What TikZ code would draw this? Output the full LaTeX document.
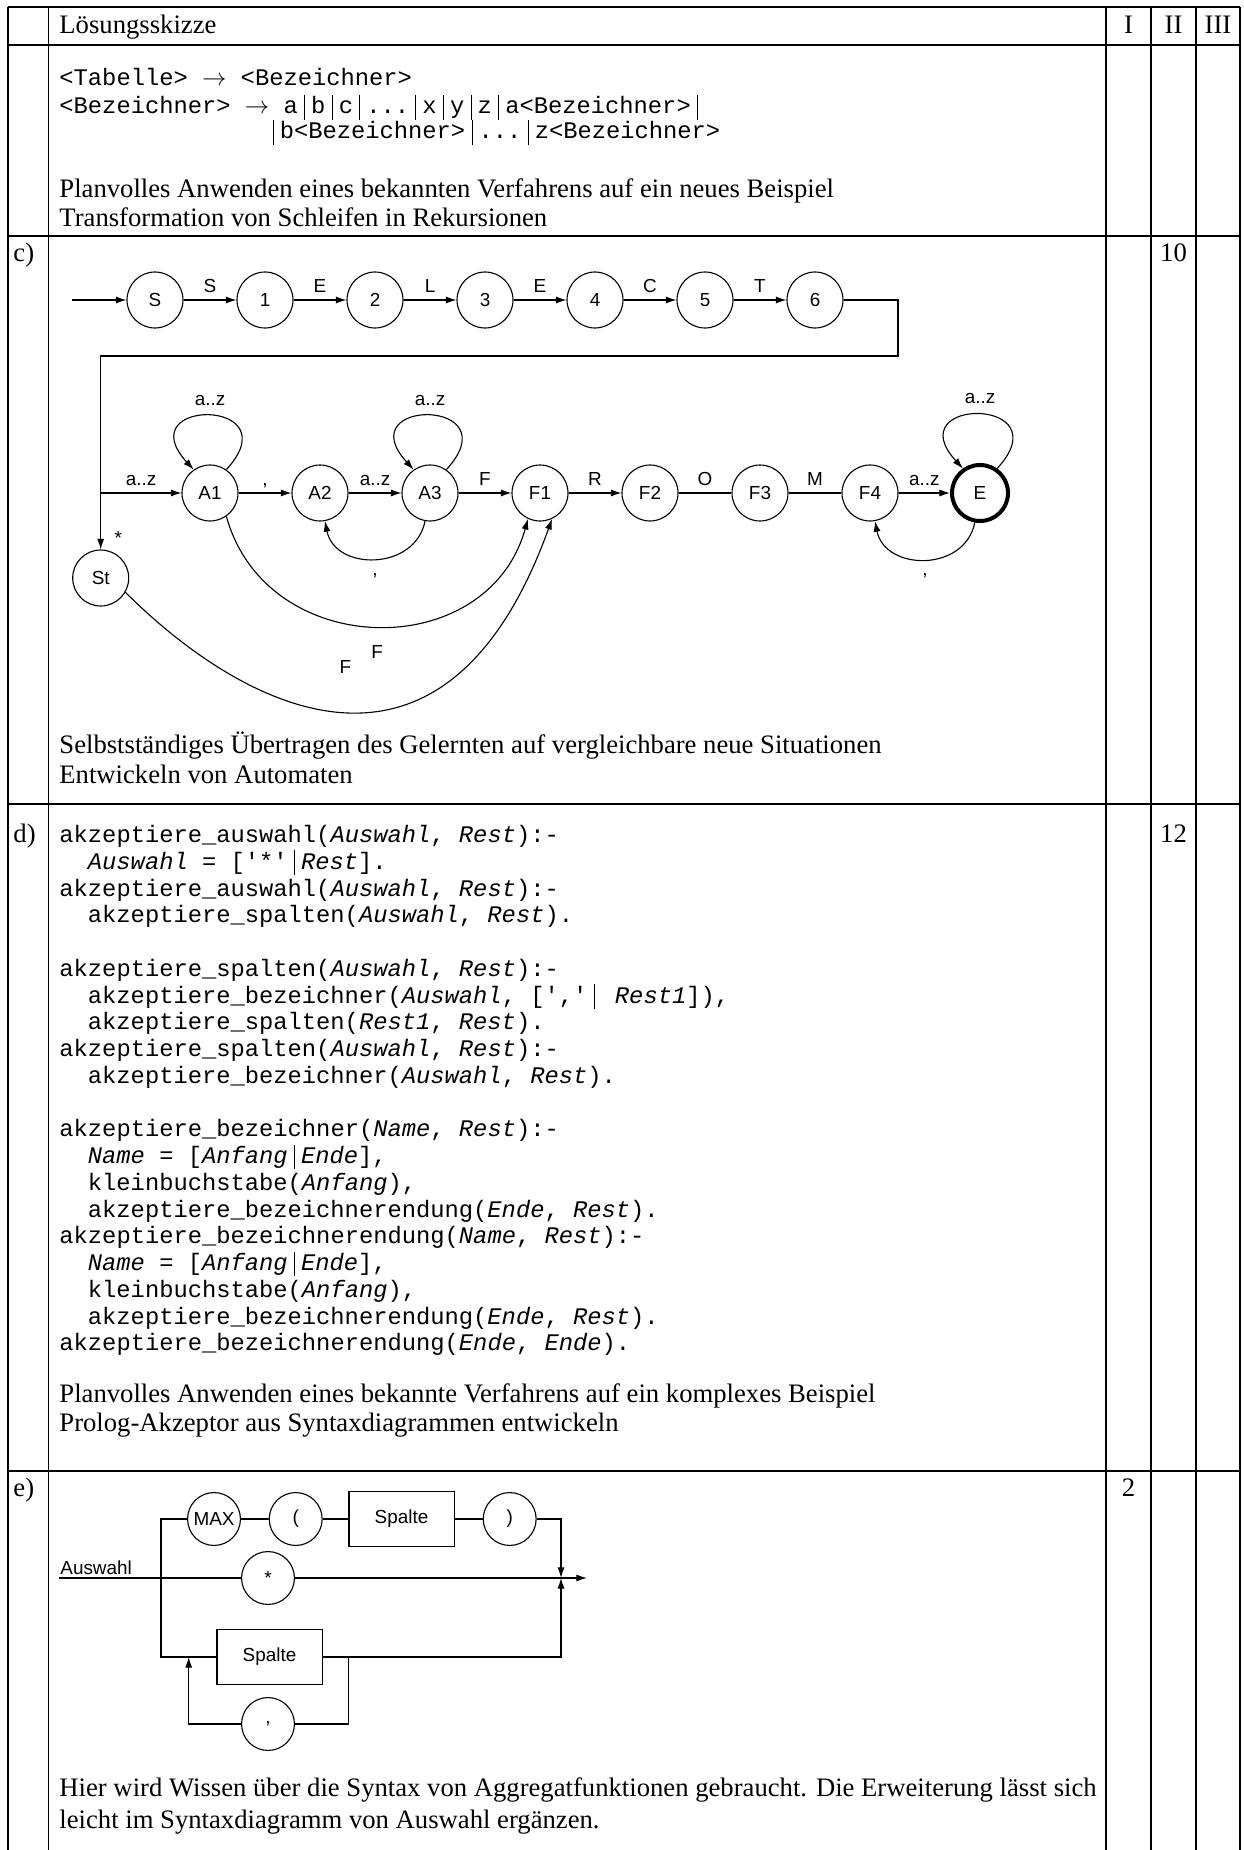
\documentclass[tikz,border=0pt]{standalone}
\usepackage{fontspec}
\setmainfont{Liberation Serif}
\setsansfont{Liberation Sans}
\setmonofont{Liberation Mono}
\usetikzlibrary{arrows.meta}
\newcommand\vb{\kern2.8pt\rule[-2.5pt]{0.4pt}{11pt}\kern2.8pt}

\begin{document}
\begin{tikzpicture}[x=0.45pt,y=-0.45pt,
            every node/.style={inner sep=0pt},
            zeile/.style={anchor=base west,font=\fontsize{12}{14}\selectfont},
            kode/.style={anchor=base west,font=\ttfamily\fontsize{10.7}{12}\selectfont},
            punkte/.style={anchor=base,font=\fontsize{12}{14}\selectfont},
            zustand/.style={circle,draw,line width=0.5pt,minimum size=25.2pt,
                font=\sffamily\fontsize{8.5}{10}\selectfont},
            ende/.style={zustand,line width=1.8pt},
            marke/.style={font=\sffamily\fontsize{8.5}{10}\selectfont,
                text height=6.2pt,text depth=0pt},
            pfeil/.style={line width=0.5pt,-{Latex[length=4.8pt,width=3.2pt]}},
            linie/.style={line width=0.5pt},
            wort/.style={circle,draw,line width=0.5pt,minimum size=23.8pt,
                font=\sffamily\fontsize{8.5}{10}\selectfont},
            kasten/.style={draw,line width=0.5pt,minimum width=47.3pt,
                minimum height=24.5pt,font=\sffamily\fontsize{8.5}{10}\selectfont}]
    \useasboundingbox (0,0) rectangle (1243,1850);

    % Tabelle
    \foreach \x in {8,48.5,1106,1151,1196,1240}
        \draw[line width=0.8pt] (\x,7) -- (\x,1850);
    \foreach \y in {7,45,236,804,1471}
        \draw[line width=1.1pt] (8,\y) -- (1240,\y);

    \node[zeile] (kopf) at (59,34) {Lösungsskizze};
    \node[punkte] (stufe1) at (1128.5,34) {I};
    \node[punkte] (stufe2) at (1173.5,34) {II};
    \node[punkte] (stufe3) at (1218,34) {III};

    % Grammatik
    \node[kode] (g1) at (59,86) {<Tabelle> $\rightarrow$ <Bezeichner>};
    \node[kode] (g2) at (59,114) {<Bezeichner> $\rightarrow$ a\vb b\vb c\vb ...\vb x\vb y\vb z\vb a<Bezeichner>\vb};
    \node[kode] (g3) at (266,139) {\vb b<Bezeichner>\vb ...\vb z<Bezeichner>};
    \node[zeile] (b1) at (59,198) {Planvolles Anwenden eines bekannten Verfahrens auf ein neues Beispiel};
    \node[zeile] (b2) at (59,227) {Transformation von Schleifen in Rekursionen};

    % c) Automat
    \node[zeile] (lc) at (13,262) {c)};
    \node[punkte] (pc) at (1173.5,262) {10};

    \node[zustand] (S) at (155,300) {S};
    \foreach \n in {1,...,6}
        \node[zustand] (s\n) at (155+110*\n,300) {\n};
    \coordinate (ein) at (72,300);
    \draw[pfeil] (ein) -- (S);
    \foreach \a/\b/\t in {S/s1/S,s1/s2/E,s2/s3/L,s3/s4/E,s4/s5/C,s5/s6/T}
        \draw[pfeil] (\a) -- node[marke,above=3pt] {\t} (\b);

    \node[zustand] (St) at (100.7,578) {St};
    \coordinate (r1) at (898,356);
    \coordinate (r2) at (100.7,356);
    \draw[pfeil] (s6) -| (r1) -- (r2) -- node[marke,pos=0.94,right=6pt] {*} (St);

    \foreach \n/\x in {A1/210,A2/320,A3/430,F1/540,F2/650,F3/760,F4/870}
        \node[zustand] (\n) at (\x,493) {\n};
    \node[ende] (E) at (980,493) {E};
    \coordinate (r3) at (100.7,493);
    \draw[pfeil] (r3) -- node[marke,above=3pt] {a..z} (A1);
    \foreach \a/\b/\t in {A1/A2/{,},A2/A3/a..z,A3/F1/F,F1/F2/R,F4/E/a..z}
        \draw[pfeil] (\a) -- node[marke,above=3pt] {\t} (\b);
    \draw[linie] (F2) -- node[marke,above=3pt] {O} (F3);
    \draw[linie] (F3) -- node[marke,above=3pt] {M} (F4);

    \foreach \n in {A1,A3,E}
        \draw[pfeil] (\n.55) .. controls +(66,-72) and +(-66,-72) .. node[marke,above=4.5pt] {a..z} (\n.125);
    \draw[pfeil] (A3.-100) .. controls +(-10,50) and +(10,50) .. node[marke,below=1pt] {,} (A2.-80);
    \draw[pfeil] (E.-100) .. controls +(-10,50) and +(10,50) .. node[marke,below=1pt] {,} (F4.-80);
    \draw[pfeil] (A1.-55) .. controls +(40,145) and +(-40,145) .. node[marke,below=8pt] {F} (F1.-115);
    \draw[pfeil] (St.-30) .. controls +(110,110) and +(-110,305) .. node[marke,pos=0.5,above=16.5pt,xshift=3pt] {F} (F1.-65);

    \node[zeile] (c1) at (59,753) {Selbstständiges Übertragen des Gelernten auf vergleichbare neue Situationen};
    \node[zeile] (c2) at (59,783) {Entwickeln von Automaten};

    % d) Prolog
    \node[zeile] (ld) at (13,842.5) {d)};
    \node[punkte] (pd) at (1173.5,842.5) {12};
    \node[kode] (p1) at (59,842.5) {akzeptiere\_auswahl(\textit{Auswahl}, \textit{Rest}):-};
    \node[kode] (p2) at (87.5,869.25) {\textit{Auswahl} = ['*'\vb\textit{Rest}].};
    \node[kode] (p3) at (59,896) {akzeptiere\_auswahl(\textit{Auswahl}, \textit{Rest}):-};
    \node[kode] (p4) at (87.5,922.75) {akzeptiere\_spalten(\textit{Auswahl}, \textit{Rest}).};
    \node[kode] (p5) at (59,976.25) {akzeptiere\_spalten(\textit{Auswahl}, \textit{Rest}):-};
    \node[kode] (p6) at (87.5,1003) {akzeptiere\_bezeichner(\textit{Auswahl}, [','\vb\ \textit{Rest1}]),};
    \node[kode] (p7) at (87.5,1029.75) {akzeptiere\_spalten(\textit{Rest1}, \textit{Rest}).};
    \node[kode] (p8) at (59,1056.5) {akzeptiere\_spalten(\textit{Auswahl}, \textit{Rest}):-};
    \node[kode] (p9) at (87.5,1083.25) {akzeptiere\_bezeichner(\textit{Auswahl}, \textit{Rest}).};
    \node[kode] (p10) at (59,1136.75) {akzeptiere\_bezeichner(\textit{Name}, \textit{Rest}):-};
    \node[kode] (p11) at (87.5,1163.5) {\textit{Name} = [\textit{Anfang}\vb\textit{Ende}],};
    \node[kode] (p12) at (87.5,1190.25) {kleinbuchstabe(\textit{Anfang}),};
    \node[kode] (p13) at (87.5,1217) {akzeptiere\_bezeichnerendung(\textit{Ende}, \textit{Rest}).};
    \node[kode] (p14) at (59,1243.75) {akzeptiere\_bezeichnerendung(\textit{Name}, \textit{Rest}):-};
    \node[kode] (p15) at (87.5,1270.5) {\textit{Name} = [\textit{Anfang}\vb\textit{Ende}],};
    \node[kode] (p16) at (87.5,1297.25) {kleinbuchstabe(\textit{Anfang}),};
    \node[kode] (p17) at (87.5,1324) {akzeptiere\_bezeichnerendung(\textit{Ende}, \textit{Rest}).};
    \node[kode] (p18) at (59,1350.75) {akzeptiere\_bezeichnerendung(\textit{Ende}, \textit{Ende}).};
    \node[zeile] (d1) at (59,1402) {Planvolles Anwenden eines bekannte Verfahrens auf ein komplexes Beispiel};
    \node[zeile] (d2) at (59,1431) {Prolog-Akzeptor aus Syntaxdiagrammen entwickeln};

    % e) Syntaxdiagramm
    \node[zeile] (le) at (13,1496) {e)};
    \node[punkte] (pe) at (1128.5,1496) {2};

    \node[wort] (max) at (214,1519) {MAX};
    \node[wort] (klauf) at (295.7,1519) {(};
    \node[kasten] (sp1) at (401.5,1519) {Spalte};
    \node[wort] (klzu) at (509.7,1519) {)};
    \node[wort] (stern) at (268,1578) {*};
    \node[kasten] (sp2) at (269.5,1657) {Spalte};
    \node[wort] (komma) at (268,1724) {,};
    \node[marke,anchor=base west] (aw) at (60,1574) {Auswahl};

    \coordinate (ea) at (59,1578);
    \coordinate (ee) at (587,1578);
    \coordinate (vl) at (161,1578);
    \coordinate (vr) at (561,1578);
    \coordinate (k1) at (348.8,1657);
    \coordinate (k2) at (188.7,1657);
    \draw[pfeil] (ea) -- (stern) -- (ee);
    \draw[linie] (max) -| (vl) |- (sp2);
    \draw[linie] (max) -- (klauf) -- (sp1) -- (klzu);
    \draw[pfeil] (klzu) -| (vr);
    \draw[pfeil] (sp2) -| (vr);
    \draw[linie] (k1) |- (komma);
    \draw[pfeil] (komma) -| (k2);

    \node[zeile] (e1) at (59,1796) {Hier wird Wissen über die Syntax von Aggregatfunktionen gebraucht. Die Erweiterung lässt sich};
    \node[zeile] (e2) at (59,1828) {leicht im Syntaxdiagramm von Auswahl ergänzen.};
\end{tikzpicture}
\end{document}
